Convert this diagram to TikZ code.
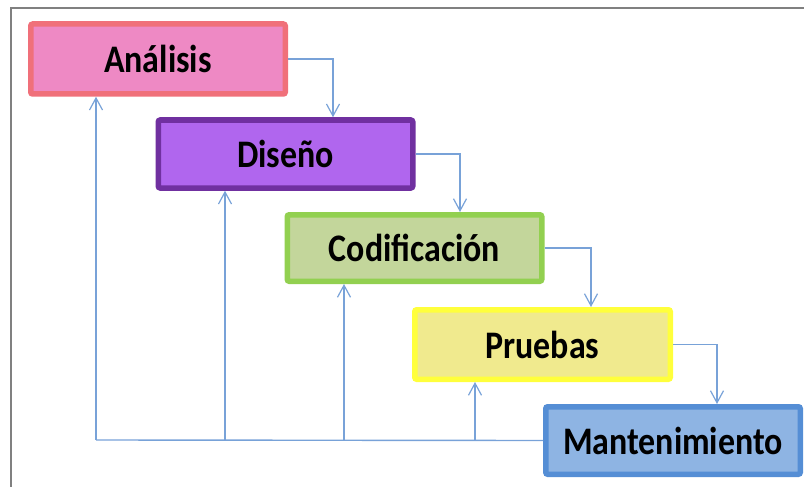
\documentclass[tikz,border=0pt]{standalone}
\usepackage{fontspec}
\usepackage{graphicx}
\setmainfont{Carlito}
\usetikzlibrary{arrows.meta}
\definecolor{frameg}{RGB}{128,128,128}
\definecolor{conn}{RGB}{120,162,216}
\definecolor{aBorder}{RGB}{240,112,122}
\definecolor{aFill}{RGB}{238,137,196}
\definecolor{dBorder}{RGB}{112,48,160}
\definecolor{dFill}{RGB}{176,102,238}
\definecolor{cBorder}{RGB}{146,208,80}
\definecolor{cFill}{RGB}{195,214,155}
\definecolor{pBorder}{RGB}{255,255,60}
\definecolor{pFill}{RGB}{240,234,142}
\definecolor{mBorder}{RGB}{85,142,213}
\definecolor{mFill}{RGB}{142,180,227}
\newcommand\boxlabel[1]{\scalebox{0.87}[1]{#1}}
\tikzset{
  phase/.style={rectangle, rounded corners=2pt, line width=5.5pt,
    minimum width=254.5pt, inner sep=0pt,
    font=\fontsize{39}{40}\selectfont\bfseries},
  arr/.style={draw=conn, line width=1.4pt,
    -{Straight Barb[length=12pt,width=13pt,line width=1.2pt]}},
  ln/.style={draw=conn, line width=1.4pt},
  frm/.style={draw=frameg, line width=2pt}
}
\begin{document}
\begin{tikzpicture}[x=1pt,y=-1pt]
\useasboundingbox (0,0) rectangle (804,487);
\draw[frm] (11,487) -- (11,8) -- (804,8);
\node[phase, draw=aBorder, fill=aFill, minimum height=70pt] (A) at (158,59) {\boxlabel{Análisis}};
\node[phase, draw=dBorder, fill=dFill, minimum height=68pt] (D) at (285.5,154) {\boxlabel{Diseño}};
\node[phase, draw=cBorder, fill=cFill, minimum height=66.5pt] (C) at (414.5,248) {\boxlabel{Codificación}};
\node[phase, draw=pBorder, fill=pFill, minimum height=69.5pt, minimum width=255.5pt] (P) at (542.5,344.5) {\boxlabel{Pruebas}};
\node[phase, draw=mBorder, fill=mFill, minimum height=67.5pt] (M) at (673,440.5) {\boxlabel{Mantenimiento}};
% forward flow
\draw[arr] (A.east) -| ([xshift=47.5pt]D.north);
\draw[arr] (D.east) -| ([xshift=45.5pt]C.north);
\draw[arr] (C.east) -| ([xshift=48.5pt]P.north);
\draw[arr] (P.east) -| ([xshift=44pt]M.north);
% feedback
\coordinate (fa) at (96,440);
\coordinate (fd) at (225,440);
\coordinate (fc) at (344,440);
\coordinate (fp) at (475,440);
\draw[ln] (M.west) -- (fa);
\draw[arr] (fa) -- (fa |- A.south);
\draw[arr] (fd) -- (fd |- D.south);
\draw[arr] (fc) -- (fc |- C.south);
\draw[arr] (fp) -- (fp |- P.south);
\end{tikzpicture}
\end{document}
